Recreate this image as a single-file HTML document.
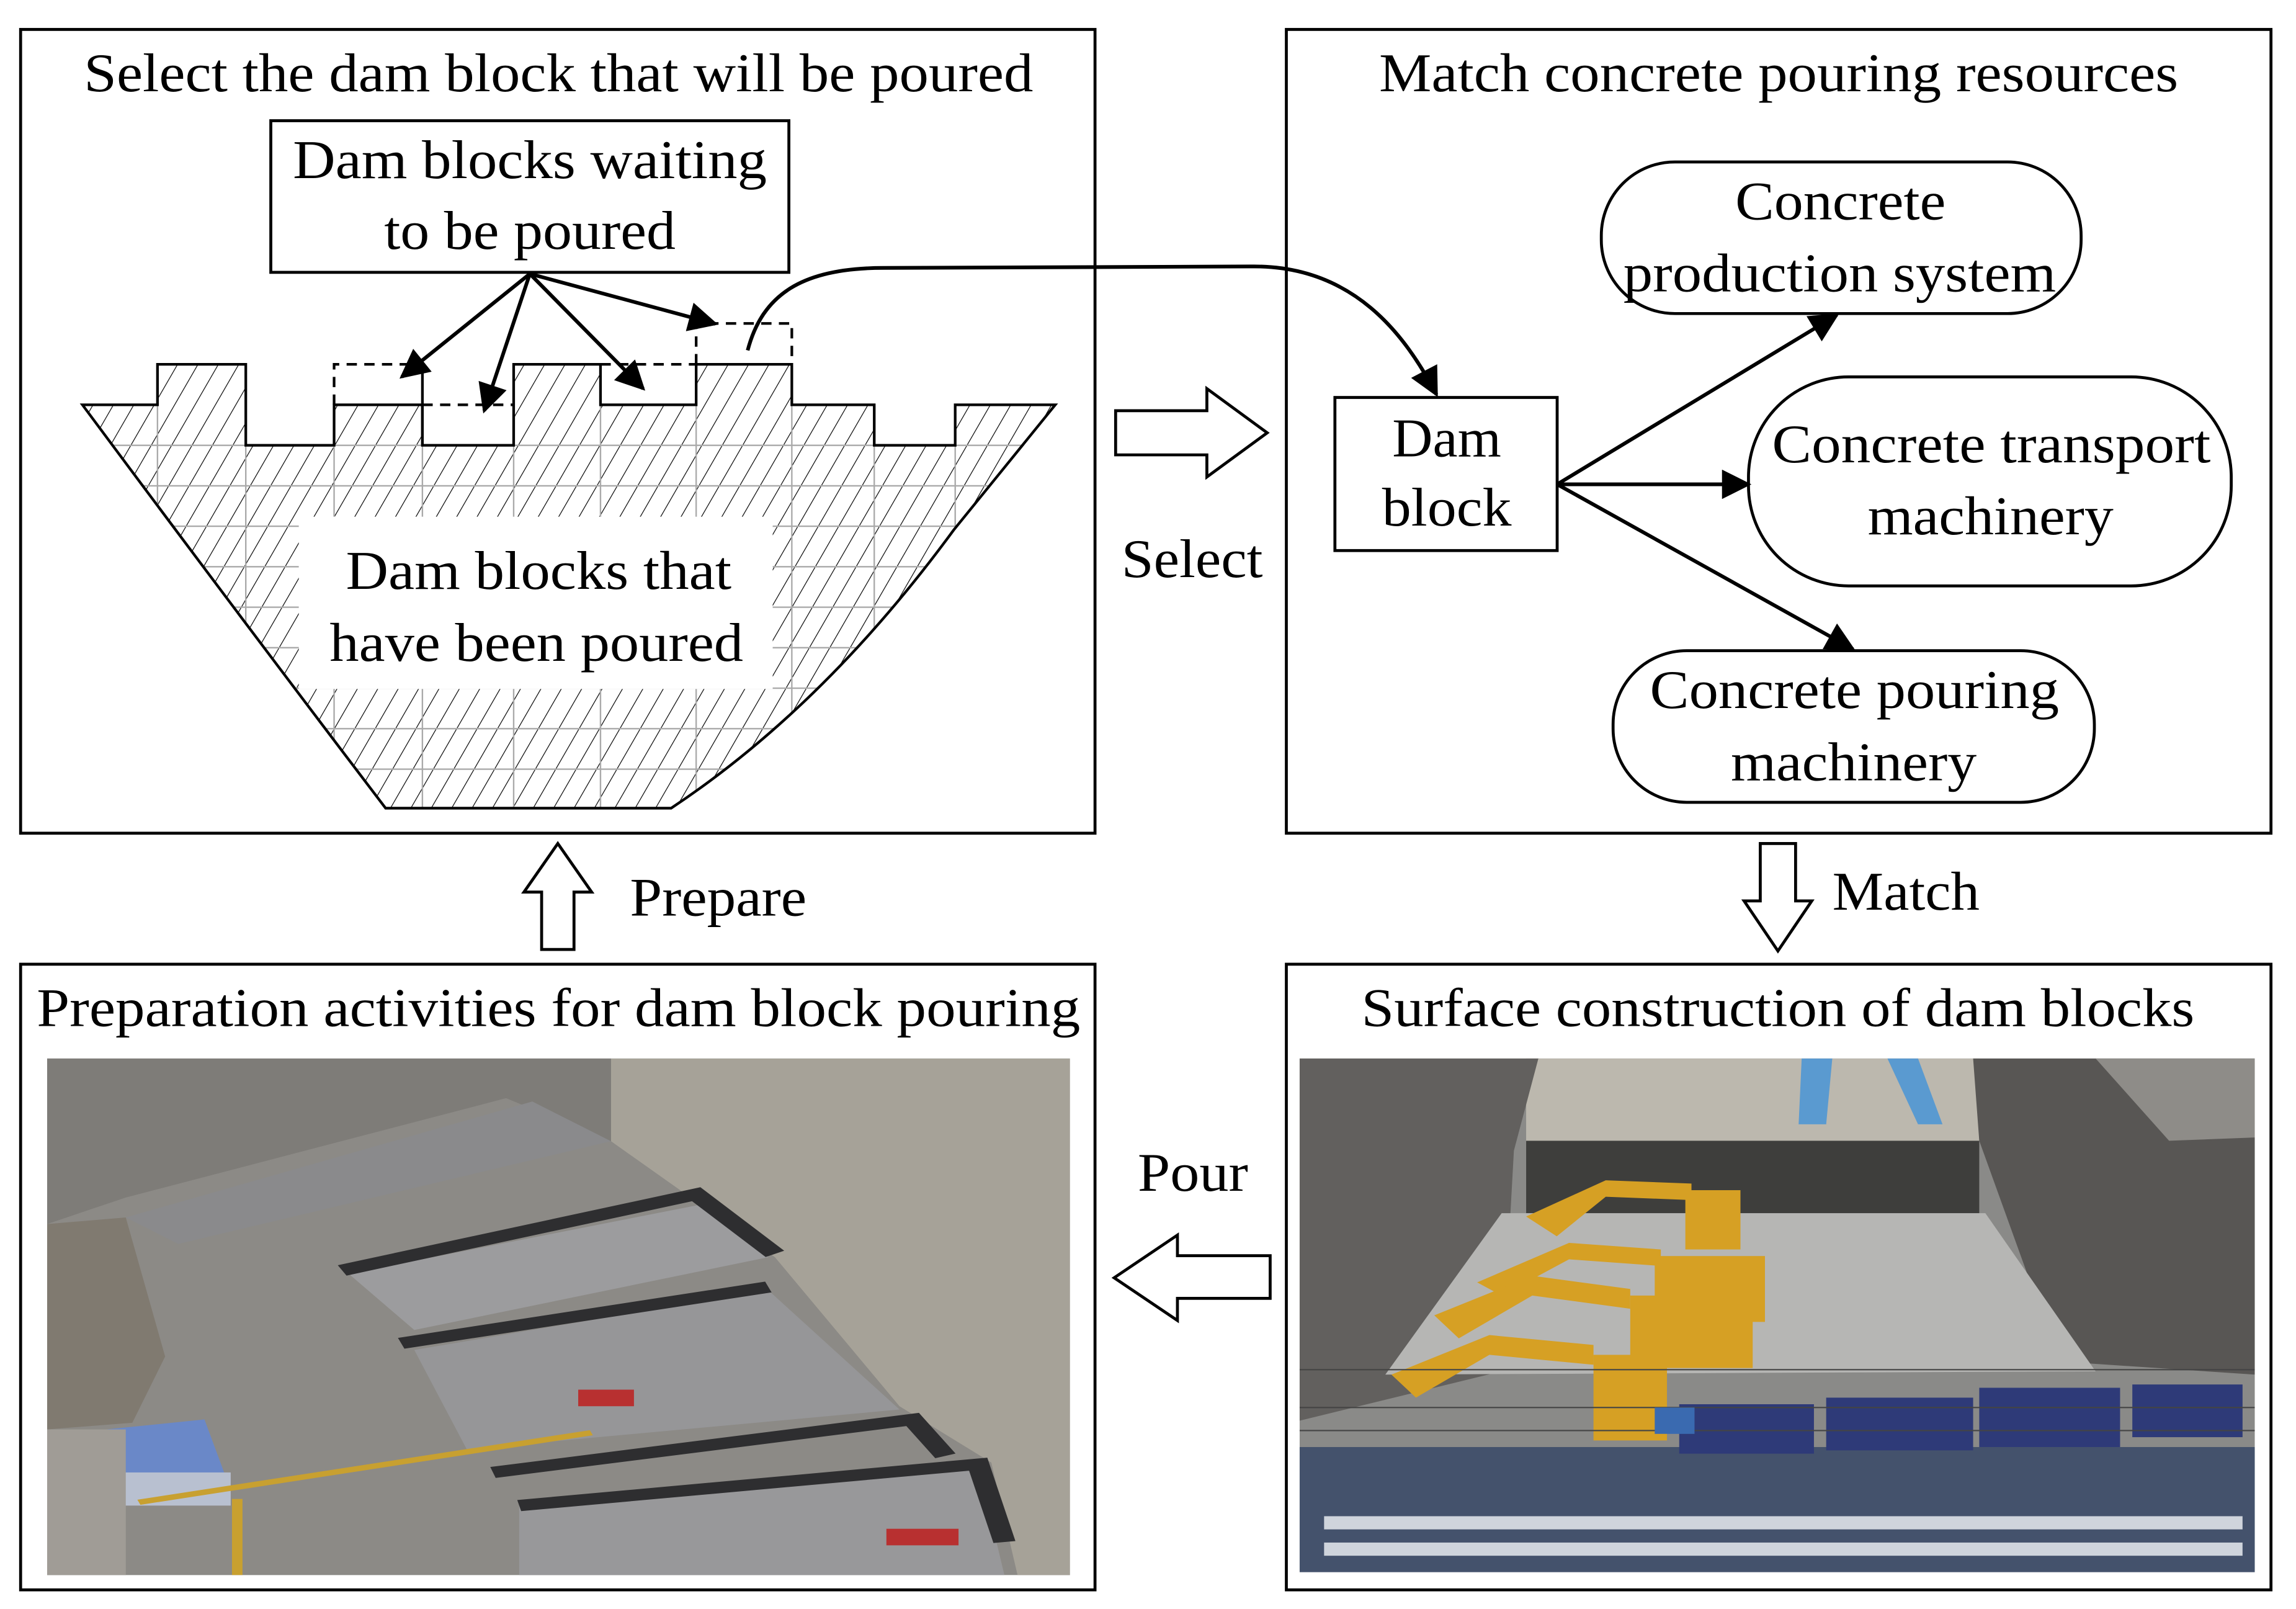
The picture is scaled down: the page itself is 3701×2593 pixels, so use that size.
<!DOCTYPE html>
<html><head><meta charset="utf-8"><style>
html,body{margin:0;padding:0;background:#fff;}
svg{display:block;}
text{font-family:"Liberation Serif",serif;font-size:37px;fill:#000;}
</style></head><body>
<svg width="3701" height="2593" viewBox="0 0 1560 1093" preserveAspectRatio="none" xmlns="http://www.w3.org/2000/svg">
<defs>
<marker id="ah2" viewBox="0 0 10 10" refX="9" refY="5" markerWidth="22" markerHeight="20" orient="auto" markerUnits="userSpaceOnUse">
<path d="M0,0 L10,5 L0,10 z" fill="#000"/></marker>
<pattern id="hatch" patternUnits="userSpaceOnUse" width="12" height="12" patternTransform="rotate(30)">
<line x1="0" y1="0" x2="0" y2="12" stroke="#000" stroke-width="1"/></pattern>
<clipPath id="damclip"><path id="damp" d="M56,275 L107,275 L107,247.5 L167,247.5 L167,302.5 L227,302.5 L227,275 L287,275 L287,302.5 L349,302.5 L349,247.5 L408,247.5 L408,275 L473,275 L473,247.5 L538,247.5 L538,275 L594,275 L594,302.5 L649,302.5 L649,275 L717,275 L648,360 Q560,480 456,549 L262,549 Q160,415 56,275 Z"/></clipPath>
</defs>
<rect width="1560" height="1093" fill="#fff"/>

<rect x="14" y="20" width="730" height="546" fill="none" stroke="#000" stroke-width="2"/>
<rect x="874" y="20" width="669" height="546" fill="none" stroke="#000" stroke-width="2"/>
<rect x="14" y="655" width="730" height="425" fill="none" stroke="#000" stroke-width="2"/>
<rect x="874" y="655" width="669" height="425" fill="none" stroke="#000" stroke-width="2"/>

<text x="57" y="62" textLength="645" lengthAdjust="spacingAndGlyphs">Select the dam block that will be poured</text>
<text x="937" y="62" textLength="543" lengthAdjust="spacingAndGlyphs">Match concrete pouring resources</text>
<text x="25" y="697" textLength="709" lengthAdjust="spacingAndGlyphs">Preparation activities for dam block pouring</text>
<text x="925" y="697" textLength="566" lengthAdjust="spacingAndGlyphs">Surface construction of dam blocks</text>

<g clip-path="url(#damclip)">
<rect x="40" y="240" width="700" height="320" fill="url(#hatch)"/>
<g stroke="#aaa" stroke-width="1">
<line x1="107" y1="240" x2="107" y2="560"/><line x1="167" y1="240" x2="167" y2="560"/><line x1="227" y1="240" x2="227" y2="560"/><line x1="287" y1="240" x2="287" y2="560"/><line x1="349" y1="240" x2="349" y2="560"/><line x1="408" y1="240" x2="408" y2="560"/><line x1="473" y1="240" x2="473" y2="560"/><line x1="538" y1="240" x2="538" y2="560"/><line x1="594" y1="240" x2="594" y2="560"/><line x1="649" y1="240" x2="649" y2="560"/>
<line x1="40" y1="302.5" x2="740" y2="302.5"/><line x1="40" y1="330" x2="740" y2="330"/><line x1="40" y1="357.5" x2="740" y2="357.5"/><line x1="40" y1="385" x2="740" y2="385"/><line x1="40" y1="412.5" x2="740" y2="412.5"/><line x1="40" y1="440" x2="740" y2="440"/><line x1="40" y1="467.5" x2="740" y2="467.5"/><line x1="40" y1="495" x2="740" y2="495"/><line x1="40" y1="522.5" x2="740" y2="522.5"/>
</g>
</g>
<use href="#damp" fill="none" stroke="#000" stroke-width="1.8"/>
<rect x="203" y="351" width="322" height="117" fill="#fff"/>
<g stroke="#000" stroke-width="1.8" fill="none" stroke-dasharray="7,5">
<path d="M227,275 L227,247.5 L287,247.5"/>
<path d="M287,275 L349,275"/>
<path d="M408,247.5 L473,247.5"/>
<path d="M473,247.5 L473,219.7 L538,219.7 L538,247.5"/>
</g>
<line x1="287" y1="247.5" x2="287" y2="302.5" stroke="#000" stroke-width="1.8"/>
<text x="235" y="400" textLength="262" lengthAdjust="spacingAndGlyphs">Dam blocks that</text>
<text x="224" y="449" textLength="281" lengthAdjust="spacingAndGlyphs">have been poured</text>

<rect x="184" y="82" width="352" height="103" fill="#fff" stroke="#000" stroke-width="2"/>
<text x="199" y="121" textLength="322" lengthAdjust="spacingAndGlyphs">Dam blocks waiting</text>
<text x="261" y="169" textLength="198" lengthAdjust="spacingAndGlyphs">to be poured</text>
<g stroke="#000" stroke-width="2.5" fill="none" marker-end="url(#ah2)">
<line x1="360" y1="186" x2="273" y2="256"/>
<line x1="360" y1="186" x2="329" y2="279"/>
<line x1="360" y1="186" x2="437" y2="264"/>
<line x1="360" y1="186" x2="486" y2="220"/>
<path d="M508,238 C518,200 545,182 600,182 L850,181 C920,180 955,228 976,268"/>
</g>

<rect x="907" y="270" width="151" height="104" fill="#fff" stroke="#000" stroke-width="2"/>
<text x="946" y="310" textLength="74" lengthAdjust="spacingAndGlyphs">Dam</text>
<text x="939" y="357" textLength="88" lengthAdjust="spacingAndGlyphs">block</text>
<rect x="1088" y="110" width="326" height="103" rx="50" fill="#fff" stroke="#000" stroke-width="2"/>
<text x="1179" y="149" textLength="143" lengthAdjust="spacingAndGlyphs">Concrete</text>
<text x="1103" y="198" textLength="294" lengthAdjust="spacingAndGlyphs">production system</text>
<rect x="1188" y="256" width="328" height="142" rx="68" fill="#fff" stroke="#000" stroke-width="2"/>
<text x="1204" y="314" textLength="298" lengthAdjust="spacingAndGlyphs">Concrete transport</text>
<text x="1269" y="363" textLength="167" lengthAdjust="spacingAndGlyphs">machinery</text>
<rect x="1096" y="442" width="327" height="103" rx="50" fill="#fff" stroke="#000" stroke-width="2"/>
<text x="1121" y="481" textLength="278" lengthAdjust="spacingAndGlyphs">Concrete pouring</text>
<text x="1176" y="530" textLength="167" lengthAdjust="spacingAndGlyphs">machinery</text>
<g stroke="#000" stroke-width="2.5" fill="none" marker-end="url(#ah2)">
<line x1="1058" y1="329" x2="1248" y2="214"/>
<line x1="1058" y1="329" x2="1188" y2="329"/>
<line x1="1058" y1="329" x2="1259" y2="441"/>
</g>

<g fill="#fff" stroke="#000" stroke-width="2">
<path d="M758,279 L820,279 L820,264 L861,294 L820,324 L820,309 L758,309 Z"/>
<path d="M1196,573 L1220,573 L1220,612 L1231,612 L1208,646 L1185,612 L1196,612 Z"/>
<path d="M863,853 L800,853 L800,839 L757,868 L800,897 L800,882 L863,882 Z"/>
<path d="M368,645 L390,645 L390,606 L402,606 L379,573 L356,606 L368,606 Z"/>
</g>
<text x="762" y="392" textLength="96" lengthAdjust="spacingAndGlyphs">Select</text>
<text x="1245" y="618" textLength="100" lengthAdjust="spacingAndGlyphs">Match</text>
<text x="773" y="809" textLength="75" lengthAdjust="spacingAndGlyphs">Pour</text>
<text x="428" y="622" textLength="120" lengthAdjust="spacingAndGlyphs">Prepare</text>

<svg x="32" y="719" width="695" height="351" viewBox="0 0 1560 1560" preserveAspectRatio="none">
<rect width="1560" height="1560" fill="#8c8a86"/>
<path d="M860,0 L1560,0 L1560,1560 L1480,1560 L1440,1220 L1300,1050 L1110,600 L860,250 Z" fill="#a6a298"/>
<path d="M0,0 L860,0 L860,250 L700,120 L120,420 L0,500 Z" fill="#7e7c78"/>
<path d="M460,650 L1000,440 L1100,600 L560,820 Z" fill="#9c9c9e"/>
<path d="M560,880 L1100,700 L1300,1060 L640,1180 Z" fill="#969698"/>
<path d="M720,1350 L1420,1230 L1460,1560 L720,1560 Z" fill="#98989a"/>
<path d="M120,480 L740,130 L860,250 L200,560 Z" fill="#8a8a8c"/>
<g stroke="#2e2e30" stroke-width="34" fill="none">
<path d="M450,640 L990,410 L1110,590"/>
<path d="M680,1250 L1320,1090 L1370,1200"/>
<path d="M720,1350 L1420,1225 L1460,1460"/>
<path d="M540,860 L1100,690"/>
</g>
<path d="M90,1120 L240,1090 L270,1250 L110,1260 Z" fill="#6a88c8"/>
<rect x="110" y="1250" width="170" height="100" fill="#b8c0d0"/>
<line x1="140" y1="1340" x2="830" y2="1130" stroke="#c8a030" stroke-width="16"/>
<line x1="290" y1="1330" x2="290" y2="1560" stroke="#c8a030" stroke-width="16"/>
<rect x="810" y="1000" width="85" height="50" fill="#b83030"/>
<rect x="1280" y="1420" width="110" height="50" fill="#b83030"/>
<rect x="40" y="1290" width="40" height="100" fill="#b84040"/>
<path d="M0,500 L120,480 L180,900 L130,1100 L0,1120 Z" fill="#807a70"/>
<rect x="0" y="1120" width="120" height="440" fill="#a09c96"/>
</svg>

<svg x="883" y="719" width="649" height="349" viewBox="0 0 1560 1560" preserveAspectRatio="none">
<rect width="1560" height="1560" fill="#8a8a88"/>
<rect x="370" y="0" width="740" height="260" fill="#bcb8ae"/>
<path d="M0,0 L390,0 L350,280 L330,950 L0,1100 Z" fill="#62605e"/>
<path d="M1100,0 L1560,0 L1560,960 L1240,920 L1110,250 Z" fill="#585654"/>
<path d="M1300,0 L1560,0 L1560,240 L1420,250 Z" fill="#8e8c88"/>
<rect x="370" y="250" width="740" height="220" fill="#3e3e3c"/>
<path d="M330,470 L1120,470 L1300,950 L140,960 Z" fill="#b6b6b4"/>
<g fill="#5a9ad0"><path d="M820,0 L870,0 L860,200 L815,200 Z"/><path d="M960,0 L1010,0 L1050,200 L1010,200 Z"/></g>
<g fill="#d6a024">
<path d="M370,480 L500,370 L640,380 L640,430 L500,420 L420,540 Z"/>
<rect x="630" y="400" width="90" height="180"/>
<path d="M290,680 L440,560 L590,580 L590,630 L440,610 L330,720 Z"/>
<rect x="580" y="600" width="180" height="200"/>
<path d="M220,780 L380,660 L540,700 L540,760 L380,720 L260,850 Z"/>
<rect x="540" y="720" width="200" height="220"/>
<path d="M150,960 L310,840 L480,870 L480,930 L310,900 L190,1030 Z"/>
<rect x="480" y="900" width="120" height="260"/>
</g>
<rect x="0" y="1180" width="1560" height="380" fill="#44526c"/>
<g fill="#cfd4dc"><rect x="40" y="1390" width="1500" height="40"/><rect x="40" y="1470" width="1500" height="40"/></g>
<g fill="#2e3a78">
<rect x="620" y="1050" width="220" height="150"/><rect x="860" y="1030" width="240" height="160"/>
<rect x="1110" y="1000" width="230" height="180"/><rect x="1360" y="990" width="180" height="160"/>
</g>
<g stroke="#444" stroke-width="4">
<line x1="0" y1="945" x2="1560" y2="945"/><line x1="0" y1="1060" x2="1560" y2="1060"/><line x1="0" y1="1130" x2="1560" y2="1130"/>
</g>
<rect x="580" y="1060" width="65" height="80" fill="#3a6ab0"/>
</svg>
</svg>
</body></html>
